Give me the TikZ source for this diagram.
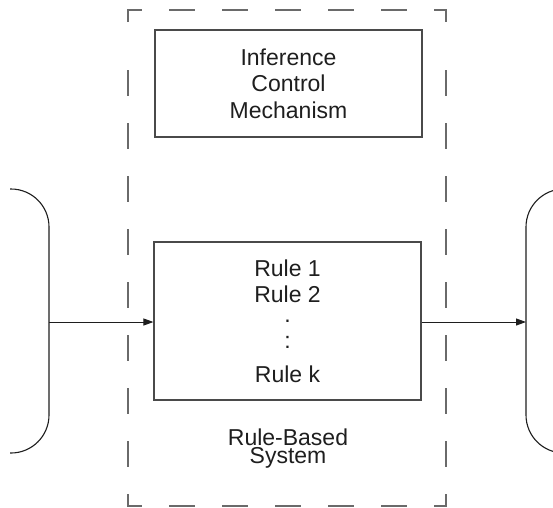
\documentclass[tikz,border=0pt]{standalone}
\usepackage{fontspec}
\setmainfont{Liberation Sans}
\usetikzlibrary{arrows.meta}

\definecolor{edgegray}{HTML}{4A4A4A}
\definecolor{dashgray}{HTML}{6A6A6A}
\definecolor{inkdark}{HTML}{1E1E1E}

\tikzset{
  procbox/.style={draw=edgegray, line width=1.1pt, rectangle, inner sep=0pt,
    align=center, text=inkdark, font=\fontsize{23}{26.4}\selectfont},
  dashline/.style={draw=dashgray, line width=1.1pt, dash pattern=on 26pt off 27pt},
  bracket/.style={draw=inkdark, line width=1.1pt, rounded corners=38pt},
  flow/.style={draw=inkdark, line width=1pt, -{Triangle[length=10pt,width=7pt]}},
  caption/.style={align=center, text=inkdark, inner sep=0pt,
    font=\fontsize{23}{18}\selectfont}
}

\begin{document}
\begin{tikzpicture}[x=1pt, y=-1pt]
  \useasboundingbox (0,0) rectangle (553,507);

  % system boundary (dashed)
  \draw[dashline] (128,22) -- (128,10) -- (446,10) -- (446,22);
  \draw[dashline] (128,494) -- (128,506) -- (446,506) -- (446,494);
  \draw[dashline, dash phase=26pt] (128,43) -- (128,494);
  \draw[dashline, dash phase=26pt] (446,43) -- (446,494);

  % inner components
  \node[procbox, minimum width=267pt, minimum height=107pt] (icm) at (288.5,83.5)
    {Inference\\Control\\Mechanism};
  \node[procbox, minimum width=267pt, minimum height=158pt] (rules) at (287.5,321)
    {Rule 1\\Rule 2\\[-6.4pt].\\:\\[7pt]Rule k};

  \node[caption] (rbs) at (288,449) {Rule-Based\\System};

  % input and output brackets
  \draw[bracket] (10,189) -| (49,453) -- (10,453);
  \begin{scope}
    \clip (0,0) rectangle (553,507);
    \draw[bracket] (566,189) -| (526,453) -- (566,453);
  \end{scope}

  \coordinate (inL) at (49,322);
  \coordinate (outR) at (526,322);
  \draw[flow] (inL) -- (inL -| rules.west);
  \draw[flow] (rules.east |- outR) -- (outR);
\end{tikzpicture}
\end{document}
